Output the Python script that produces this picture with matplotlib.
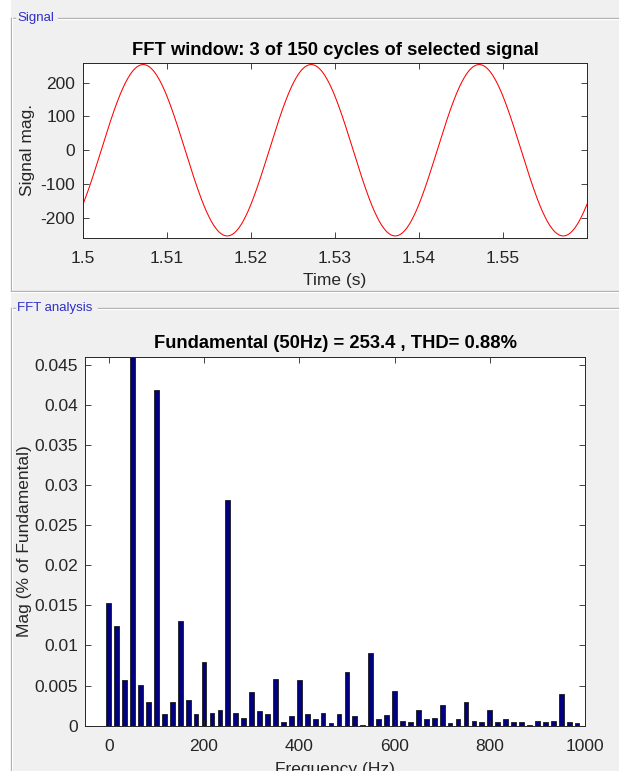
import numpy as np
import matplotlib
matplotlib.use("Agg")
import matplotlib.pyplot as plt
from matplotlib.lines import Line2D
from matplotlib.patches import Rectangle
from matplotlib.ticker import FuncFormatter, FixedLocator

plt.rcParams['font.family'] = ['Liberation Sans', 'DejaVu Sans']
plt.rcParams['axes.unicode_minus'] = False

W, H, DPI = 619, 771, 100

# ---- signal window -------------------------------------------------------
FUND_FREQ = 50.0          # Hz
FUND_MAG = 253.4          # peak of the fundamental
THD_PCT = 0.88
N_CYCLES = 3
TOTAL_CYCLES = 150
T_START = 1.5             # s
PHASE_DEG = -39.0         # phase of the fundamental at T_START
SAMPLE_RATE = 20000       # samples per second

time_ticks = [1.5, 1.51, 1.52, 1.53, 1.54, 1.55]
signal_ticks = [-200, -100, 0, 100, 200]

# ---- spectrum (harmonic order k -> k * 50/3 Hz), % of fundamental --------
harmonic_order = list(range(60))
mag_pct = [
    0.0153, 0.0124, 0.0057, 100.0, 0.0051, 0.0030, 0.0418, 0.0015, 0.0029, 0.0131,
    0.0032, 0.0015, 0.0080, 0.0016, 0.0019, 0.0281, 0.0016, 0.0009, 0.0042, 0.0018,
    0.0014, 0.0058, 0.0005, 0.0012, 0.0057, 0.0015, 0.0008, 0.0016, 0.0003, 0.0014,
    0.0067, 0.0012, 0.0001, 0.0091, 0.0008, 0.0013, 0.0043, 0.0006, 0.0005, 0.0019,
    0.0008, 0.0009, 0.0026, 0.0003, 0.0008, 0.0029, 0.0006, 0.0005, 0.0019, 0.0004,
    0.0008, 0.0005, 0.0004, 0.0001, 0.0006, 0.0005, 0.0006, 0.0040, 0.0004, 0.0003,
]
freq_ticks = [0, 200, 400, 600, 800, 1000]
mag_ticks = [0, 0.005, 0.01, 0.015, 0.02, 0.025, 0.03, 0.035, 0.04, 0.045]

GRAY_BG = '#F0F0F0'
TEXT_COL = '#262626'
PANEL_TITLE_COL = '#2E2EC8'
BAR_FILL = '#000080'
TICK_FS = 12.5
LABEL_FS = 12.5


def fx(x):
    return x / W


def fy(y):
    return 1 - y / H


fig = plt.figure(figsize=(W / DPI, H / DPI), dpi=DPI, facecolor=GRAY_BG)

# white margin on the left of the panels
fig.add_artist(Rectangle((0, 0), fx(11), 1, transform=fig.transFigure,
                         facecolor='white', edgecolor='none', zorder=0))


def etched(x0, y0, x1, y1):
    fig.add_artist(Line2D([fx(x0), fx(x1)], [fy(y0), fy(y1)], color='#A8A8A8',
                          lw=0.9, transform=fig.transFigure, zorder=0.5))
    dx = 1 if x0 == x1 else 0
    dy = 1 if y0 == y1 else 0
    fig.add_artist(Line2D([fx(x0 + dx), fx(x1 + dx)], [fy(y0 + dy), fy(y1 + dy)],
                          color='white', lw=0.9, transform=fig.transFigure, zorder=0.5))


# "Signal" panel frame
etched(11, 18, 15, 18)
etched(58, 18, 619, 18)
etched(11, 18, 11, 291)
etched(11, 291, 619, 291)
fig.text(fx(17), fy(18), 'Signal', color=PANEL_TITLE_COL, fontsize=9.5,
         ha='left', va='center')

# "FFT analysis" panel frame
etched(11, 308, 15, 308)
etched(98, 308, 619, 308)
etched(11, 308, 11, 771)
fig.text(fx(17), fy(308), 'FFT analysis', color=PANEL_TITLE_COL, fontsize=9.5,
         ha='left', va='center')


def style_axes(ax, ypad):
    for s in ax.spines.values():
        s.set_color(TEXT_COL)
        s.set_linewidth(0.7)
    ax.tick_params(direction='in', top=True, right=True, length=4, width=0.6,
                   colors=TEXT_COL, labelsize=TICK_FS, labelcolor=TEXT_COL)
    ax.tick_params(axis='x', pad=9.5)
    ax.tick_params(axis='y', pad=ypad)


# ---- time-domain signal -----------------------------------------------------
t_end = T_START + N_CYCLES / FUND_FREQ
t = np.arange(T_START, t_end + 0.5 / SAMPLE_RATE, 1 / SAMPLE_RATE)
signal = FUND_MAG * np.sin(2 * np.pi * FUND_FREQ * (t - T_START) + np.deg2rad(PHASE_DEG))

ax1 = fig.add_axes([fx(83), fy(237.5), fx(587) - fx(83), fy(63) - fy(237.5)])
ax1.plot(t, signal, color='red', lw=0.75)
ax1.set_xlim(T_START, t_end)
ax1.set_ylim(-258, 258)
ax1.xaxis.set_major_locator(FixedLocator(time_ticks))
ax1.yaxis.set_major_locator(FixedLocator(signal_ticks))
ax1.xaxis.set_major_formatter(FuncFormatter(lambda v, p: f"{round(v, 4):g}"))
style_axes(ax1, 5.5)
ax1.set_title(f'FFT window: {N_CYCLES} of {TOTAL_CYCLES} cycles of selected signal',
              fontsize=13.2, fontweight='bold', color='black', pad=6)
ax1.set_xlabel('Time (s)', fontsize=LABEL_FS, color=TEXT_COL, labelpad=5.5)
ax1.set_ylabel('Signal mag.', fontsize=LABEL_FS, color=TEXT_COL, labelpad=4)

# ---- spectrum ----------------------------------------------------------------
freqs = np.array(harmonic_order) * FUND_FREQ / N_CYCLES
ax2 = fig.add_axes([fx(85), fy(725.7), fx(585) - fx(85), fy(356.7) - fy(725.7)])
ax2.bar(freqs, mag_pct, width=10, color=BAR_FILL, edgecolor='#1A1A1A', linewidth=0.6)
ax2.set_xlim(-50, 1000)
ax2.set_ylim(0, 0.046)
ax2.xaxis.set_major_locator(FixedLocator(freq_ticks))
ax2.yaxis.set_major_locator(FixedLocator(mag_ticks))
ax2.yaxis.set_major_formatter(FuncFormatter(lambda v, p: f"{round(v, 4):g}"))
style_axes(ax2, 5)
ax2.set_title(f'Fundamental ({FUND_FREQ:g}Hz) = {FUND_MAG:g} , THD= {THD_PCT:.2f}%',
              fontsize=13.2, fontweight='bold', color='black', pad=6)
ax2.set_xlabel('Frequency (Hz)', fontsize=LABEL_FS, color=TEXT_COL, labelpad=5.5)
ax2.set_ylabel('Mag (% of Fundamental)', fontsize=LABEL_FS, color=TEXT_COL, labelpad=1.5)

fig.savefig('out.png', dpi=DPI, facecolor=GRAY_BG)
